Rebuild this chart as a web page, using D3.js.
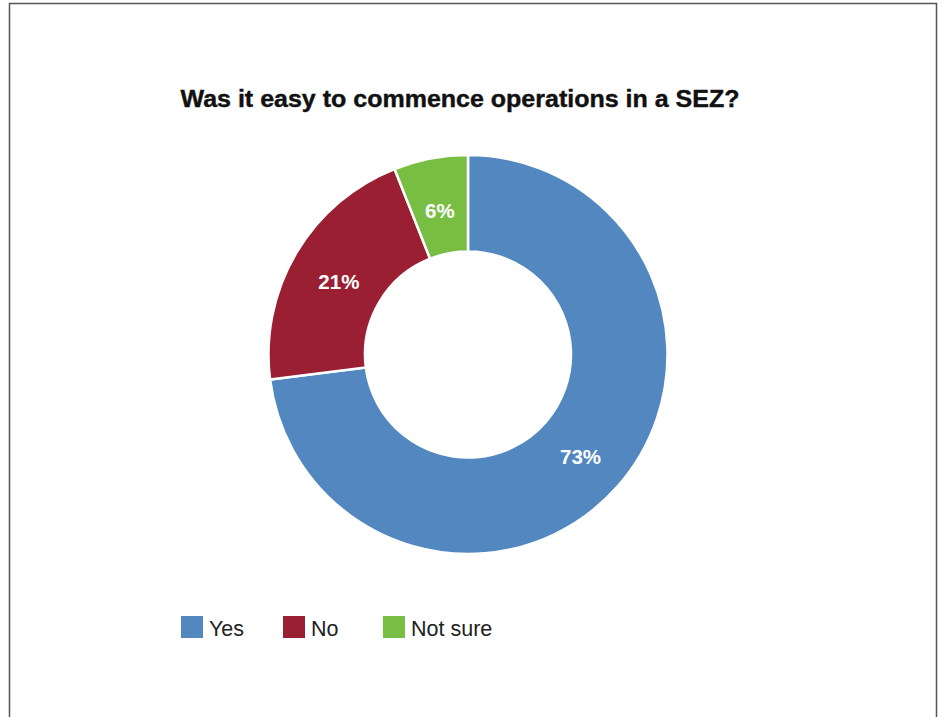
<!DOCTYPE html>
<html>
<head>
<meta charset="utf-8">
<script src="https://cdn.jsdelivr.net/npm/d3@7"></script>
<style>
  html, body { margin: 0; padding: 0; background: #fff; }
  svg { display: block; }
</style>
</head>
<body>
<svg id="chart" width="943" height="717"></svg>
<script>
// Survey answers and their shares (percent)
const categories = ["Yes", "No", "Not sure"];
const values = [73, 21, 6];
const colors = ["#5288BF", "#9B1F32", "#77BE43"];
const title = "Was it easy to commence operations in a SEZ?";

const svg = d3.select("#chart");

// Frame around the chart area
svg.append("path")
  .attr("d", "M9.5,717 V3.5 H936.5 V717")
  .attr("fill", "none")
  .attr("stroke", "#555")
  .attr("stroke-width", 1.5);

// Title
svg.append("text")
  .attr("x", 460)
  .attr("y", 106.5)
  .attr("text-anchor", "middle")
  .attr("font-family", "'Liberation Sans', Arial, sans-serif")
  .attr("font-weight", "bold")
  .attr("font-size", 23)
  .attr("textLength", 559)
  .attr("lengthAdjust", "spacingAndGlyphs")
  .attr("stroke", "#111")
  .attr("stroke-width", 0.4)
  .attr("fill", "#111")
  .text(title);

// Donut
const cx = 468, cy = 354.5, outerR = 199.5, innerR = 103;
const color = d3.scaleOrdinal().domain(categories).range(colors);
const pie = d3.pie().sort(null).value(d => d.value);
const data = categories.map((c, i) => ({ name: c, value: values[i] }));
const arcs = pie(data);
const arc = d3.arc().innerRadius(innerR).outerRadius(outerR);
const labelArc = d3.arc().innerRadius(150).outerRadius(150);

const g = svg.append("g").attr("transform", `translate(${cx},${cy})`);
g.selectAll("path.slice")
  .data(arcs)
  .join("path")
  .attr("class", "slice")
  .attr("d", arc)
  .attr("fill", d => color(d.data.name))
  .attr("stroke", "#fff")
  .attr("stroke-width", 2.5)
  .attr("stroke-linejoin", "miter");

g.selectAll("text.val")
  .data(arcs)
  .join("text")
  .attr("class", "val")
  .attr("transform", d => {
    const [x, y] = labelArc.centroid(d);
    return `translate(${x},${y + 3})`;
  })
  .attr("text-anchor", "middle")
  .attr("dy", "0.36em")
  .attr("font-family", "'Liberation Sans', Arial, sans-serif")
  .attr("font-weight", "bold")
  .attr("font-size", 20.5)
  .attr("fill", "#fff")
  .text(d => d.data.value + "%");

// Legend
const legendX = d3.scaleOrdinal().domain(categories).range([181, 283, 383]);
const legend = svg.append("g");
const items = legend.selectAll("g")
  .data(categories)
  .join("g")
  .attr("transform", d => `translate(${legendX(d)},616)`);
items.append("rect")
  .attr("width", 22)
  .attr("height", 22)
  .attr("fill", d => color(d));
items.append("text")
  .attr("x", 28)
  .attr("y", 20)
  .attr("font-family", "'Liberation Sans', Arial, sans-serif")
  .attr("font-size", 21.5)
  .attr("fill", "#222")
  .text(d => d);
</script>
</body>
</html>
